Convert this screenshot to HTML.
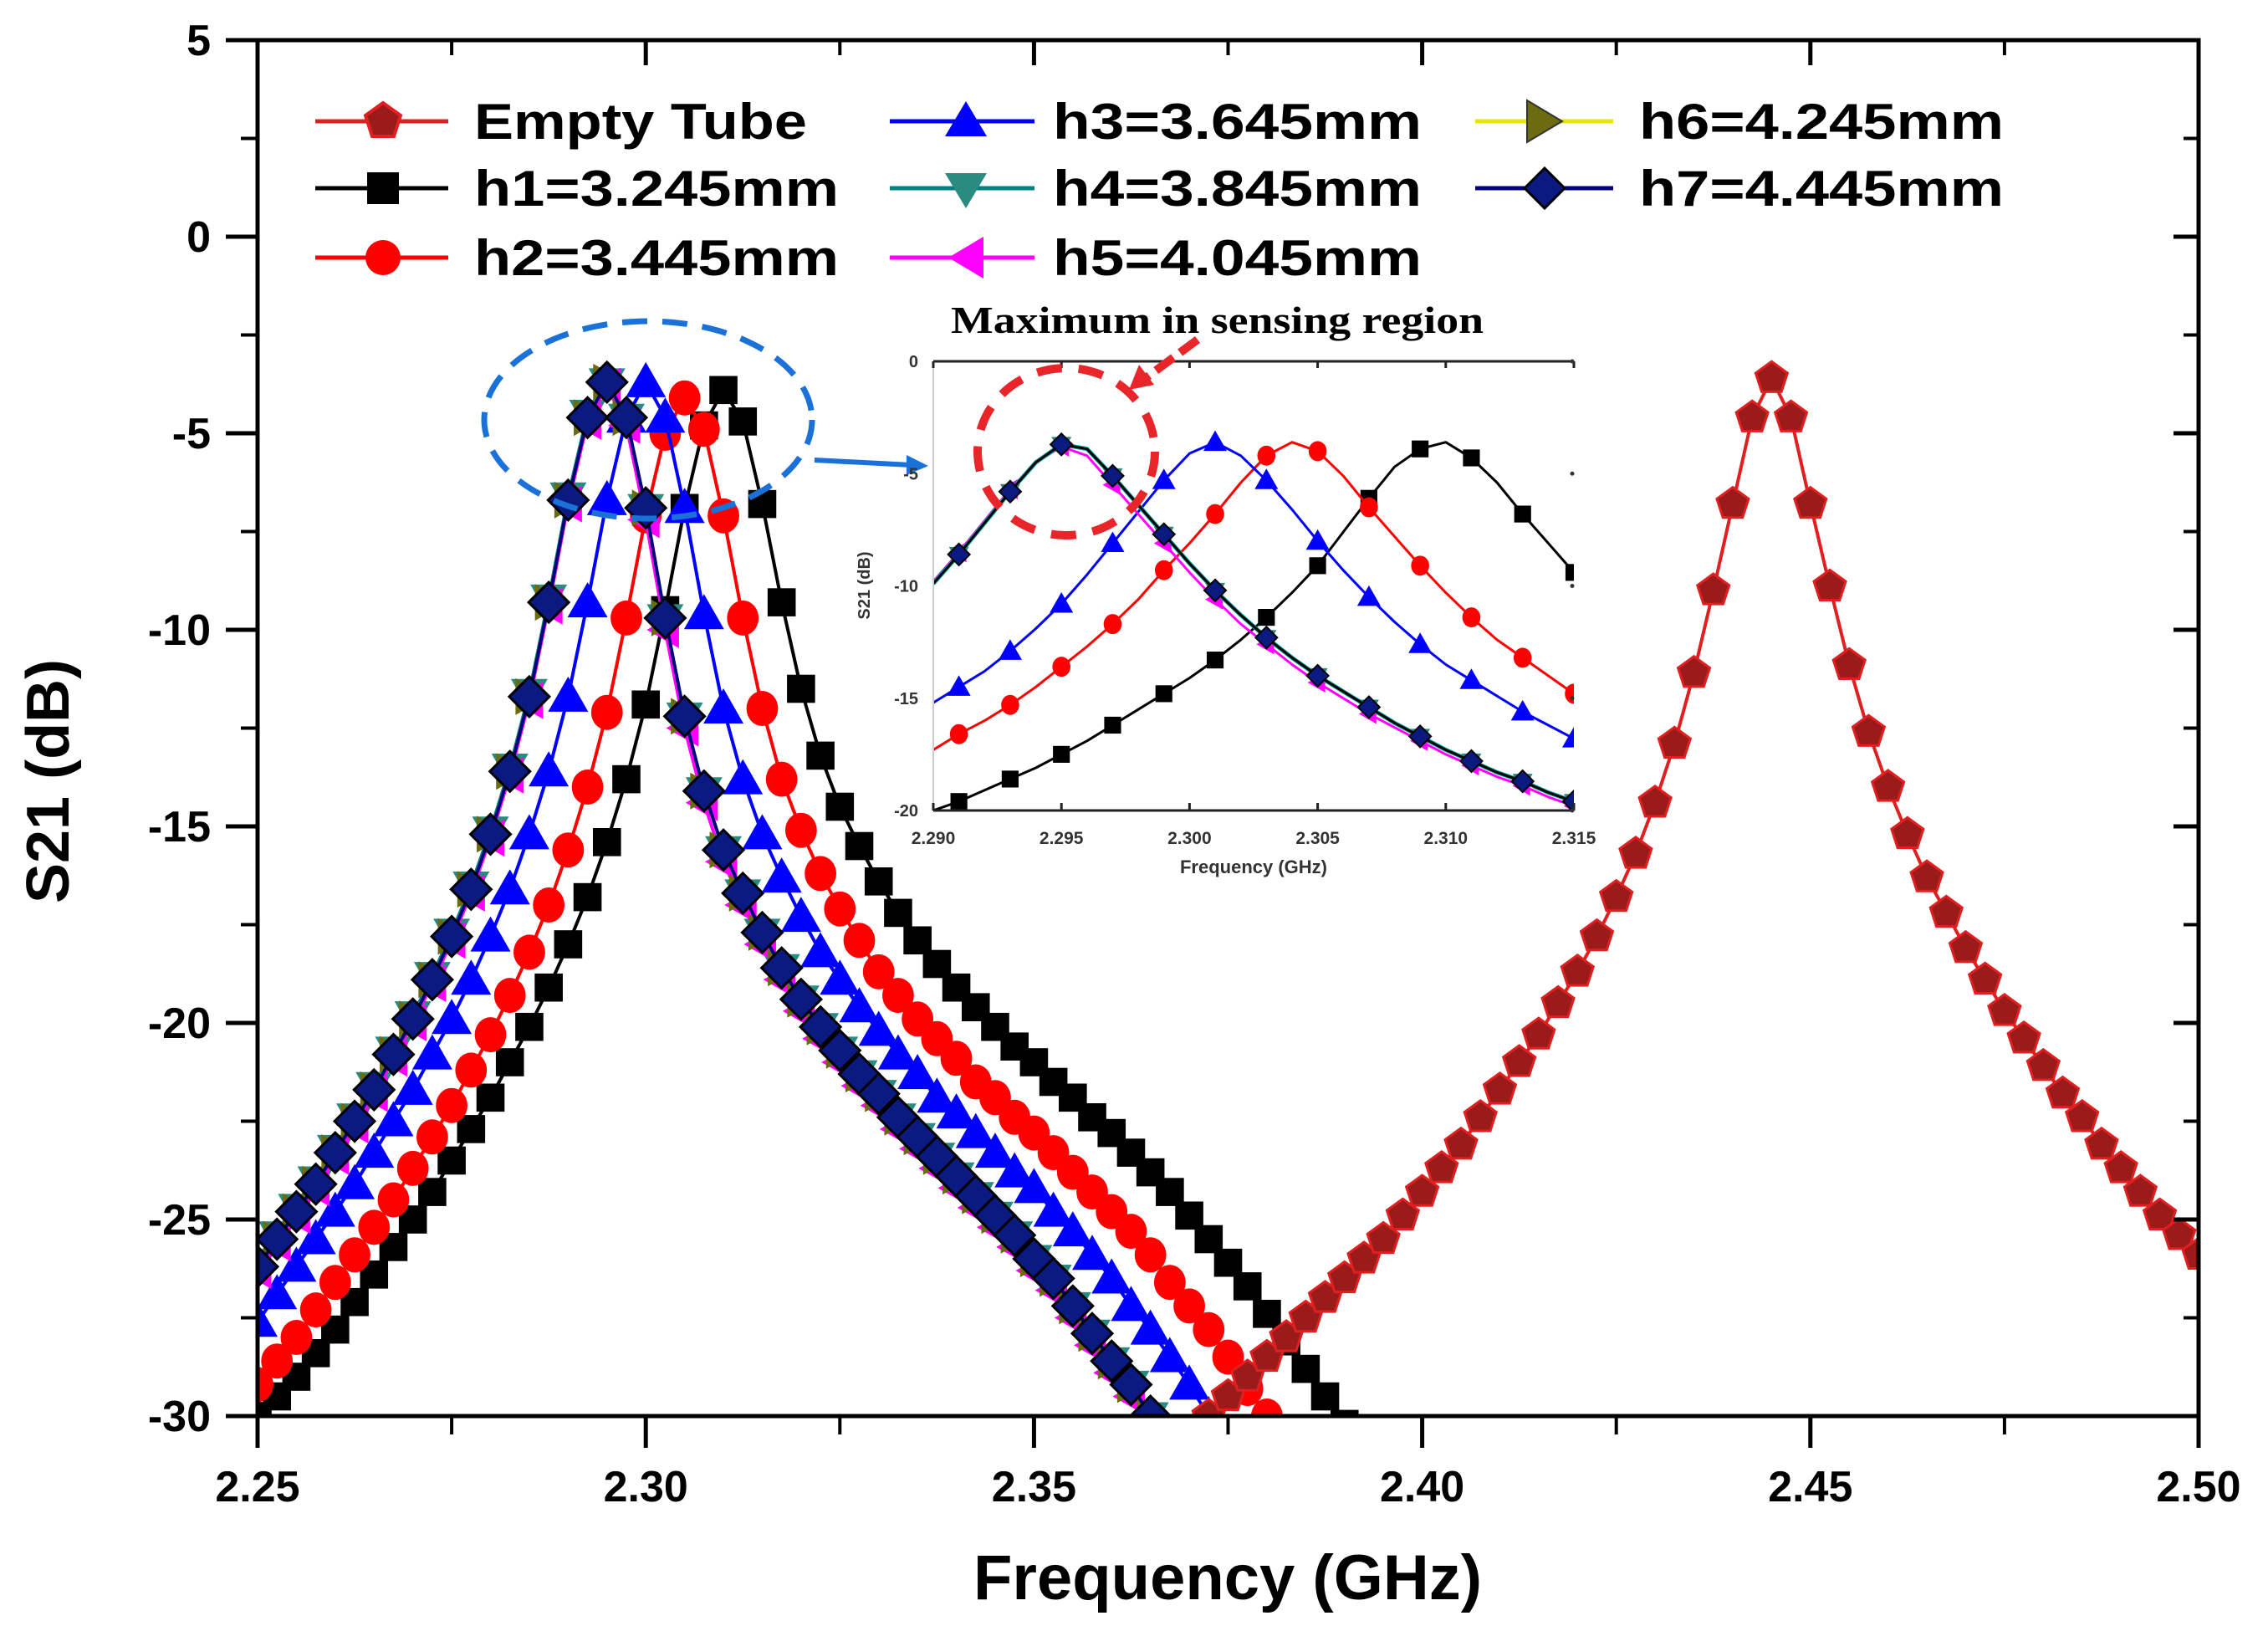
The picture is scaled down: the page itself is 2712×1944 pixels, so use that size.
<!DOCTYPE html>
<html><head><meta charset="utf-8"><style>
html,body{margin:0;padding:0;background:#fff;width:2712px;height:1944px;overflow:hidden;}
svg{display:block;font-family:"Liberation Sans",Arial,sans-serif;}
</style></head><body>
<svg id="chart" width="2712" height="1944" viewBox="0 0 2712 1944" xmlns="http://www.w3.org/2000/svg">
<defs>
<clipPath id="mainClip"><rect x="308" y="48" width="2321" height="1645"/></clipPath>
<clipPath id="insetClip"><rect x="1116" y="432" width="766" height="537"/></clipPath>
</defs>
<rect x="0" y="0" width="2712" height="1944" fill="#fff"/>
<g id="mainSeries" clip-path="url(#mainClip)"></g>
<g id="mainAxes"></g>
<text x="1468" y="1912" font-size="76" font-weight="bold" text-anchor="middle">Frequency (GHz)</text>
<text x="0" y="0" font-size="72" font-weight="bold" text-anchor="middle" transform="translate(82,934) rotate(-90)">S21 (dB)</text>

<g font-size="60" font-weight="bold">
 <g>
  <line x1="377" y1="145" x2="536" y2="145" stroke="#e02020" stroke-width="5"/>
  <polygon points="458,123 479,138 471,163 445,163 437,138" fill="#9b1b1b" stroke="#e02020" stroke-width="4"/>
  <text x="567" y="166" textLength="398" lengthAdjust="spacingAndGlyphs">Empty Tube</text>
 </g>
 <g>
  <line x1="377" y1="225" x2="536" y2="225" stroke="#000" stroke-width="5"/>
  <rect x="439" y="206" width="38" height="38" fill="#000"/>
  <text x="567" y="246" textLength="436" lengthAdjust="spacingAndGlyphs">h1=3.245mm</text>
 </g>
 <g>
  <line x1="377" y1="308" x2="536" y2="308" stroke="#ff0000" stroke-width="5"/>
  <circle cx="458" cy="308" r="21" fill="#ff0000"/>
  <text x="567" y="329" textLength="436" lengthAdjust="spacingAndGlyphs">h2=3.445mm</text>
 </g>
 <g>
  <line x1="1064" y1="145" x2="1237" y2="145" stroke="#0000ff" stroke-width="5"/>
  <polygon points="1155,121 1180,163 1130,163" fill="#0000ff"/>
  <text x="1259" y="166" textLength="441" lengthAdjust="spacingAndGlyphs">h3=3.645mm</text>
 </g>
 <g>
  <line x1="1064" y1="225" x2="1237" y2="225" stroke="#008080" stroke-width="5"/>
  <polygon points="1130,207 1180,207 1155,249" fill="#2a8c80"/>
  <text x="1259" y="246" textLength="441" lengthAdjust="spacingAndGlyphs">h4=3.845mm</text>
 </g>
 <g>
  <line x1="1064" y1="308" x2="1237" y2="308" stroke="#ff00ff" stroke-width="5"/>
  <polygon points="1134,308 1176,283 1176,333" fill="#ff00ff"/>
  <text x="1259" y="329" textLength="441" lengthAdjust="spacingAndGlyphs">h5=4.045mm</text>
 </g>
 <g>
  <line x1="1764" y1="145" x2="1929" y2="145" stroke="#e6e600" stroke-width="5"/>
  <polygon points="1826,120 1868,145 1826,170" fill="#6b6b10" stroke="#333" stroke-width="2"/>
  <text x="1960" y="166" textLength="436" lengthAdjust="spacingAndGlyphs">h6=4.245mm</text>
 </g>
 <g>
  <line x1="1764" y1="225" x2="1929" y2="225" stroke="#000080" stroke-width="5"/>
  <polygon points="1847,201 1871,225 1847,249 1823,225" fill="#0a1a80" stroke="#000" stroke-width="3"/>
  <text x="1960" y="246" textLength="436" lengthAdjust="spacingAndGlyphs">h7=4.445mm</text>
 </g>
</g>

<ellipse cx="775" cy="502" rx="196" ry="118" fill="none" stroke="#1a72d9" stroke-width="7" stroke-dasharray="30 18"/>
<g>
 <line x1="974" y1="550" x2="1090" y2="556" stroke="#1a72d9" stroke-width="6"/>
 <polygon points="1110,557 1084,544 1084,568" fill="#1a72d9"/>
</g>

<g id="inset">
 <rect x="1116" y="432" width="766" height="537" fill="#fff"/>
 <g id="insetSeries" clip-path="url(#insetClip)"></g>
 <g id="insetAxes"></g>
 <text x="1499" y="1044" font-size="22" font-weight="bold" text-anchor="middle" fill="#333">Frequency (GHz)</text>
 <text x="0" y="0" font-size="20" font-weight="bold" text-anchor="middle" fill="#333" transform="translate(1040,700) rotate(-90)">S21 (dB)</text>
</g>
<text x="1137" y="398" font-family="Liberation Serif, serif" font-size="46" font-weight="bold" textLength="637" lengthAdjust="spacingAndGlyphs">Maximum in sensing region</text>
<ellipse cx="1275" cy="540" rx="106" ry="100" fill="none" stroke="#e8262a" stroke-width="10" stroke-dasharray="30 20"/>
<g>
 <line x1="1432" y1="406" x2="1370" y2="452" stroke="#e8262a" stroke-width="10" stroke-dasharray="26 10"/>
 <polygon points="1350,466 1362,436 1380,460" fill="#e8262a"/>
</g>

<script>
// ---------- main chart data ----------
const hFreqs = Array.from({length:57}, (_, i) => +(2.25 + 0.0025 * i).toFixed(4));
const emptyFreqs = Array.from({length:53}, (_, i) => +(2.37 + 0.0025 * i).toFixed(4));
const emptyValues = [-30.5,-30.0,-29.5,-29.0,-28.5,-28.0,-27.5,-27.0,-26.5,-26.0,-25.5,-24.9,-24.3,-23.7,-23.1,-22.4,-21.7,-21.0,-20.3,-19.5,-18.7,-17.8,-16.8,-15.7,-14.4,-12.9,-11.1,-9.0,-6.8,-4.6,-3.6,
 -4.6,-6.8,-8.9,-10.9,-12.6,-14.0,-15.2,-16.3,-17.2,-18.1,-18.9,-19.7,-20.4,-21.1,-21.8,-22.4,-23.1,-23.7,-24.3,-24.9,-25.4,-25.9];
const h1Values = [-30.0,-29.5,-29.0,-28.4,-27.8,-27.1,-26.4,-25.7,-25.0,-24.3,-23.5,-22.7,-21.9,-21.0,-20.1,-19.1,-18.0,-16.8,-15.4,-13.8,-11.9,-9.5,-6.9,-4.8,-3.9,
 -4.7,-6.8,-9.3,-11.5,-13.2,-14.5,-15.5,-16.4,-17.2,-17.9,-18.5,-19.1,-19.6,-20.1,-20.6,-21.0,-21.5,-21.9,-22.4,-22.8,-23.3,-23.8,-24.3,-24.9,-25.5,-26.1,-26.7,-27.4,-28.1,-28.8,-29.5,-30.2];
const h2Values = [-29.2,-28.6,-28.0,-27.3,-26.6,-25.9,-25.2,-24.5,-23.7,-22.9,-22.1,-21.2,-20.3,-19.3,-18.2,-17.0,-15.6,-14.0,-12.1,-9.7,-7.1,-5.0,-4.1,
 -4.9,-7.1,-9.7,-12.0,-13.8,-15.1,-16.2,-17.1,-17.9,-18.7,-19.3,-19.9,-20.4,-20.9,-21.5,-21.9,-22.4,-22.8,-23.3,-23.8,-24.3,-24.8,-25.3,-25.9,-26.6,-27.2,-27.8,-28.5,-29.3,-30.0,-30.7,-31.5,-32.2,-32.9];
const h3Values = [-27.6,-26.9,-26.2,-25.5,-24.8,-24.1,-23.3,-22.5,-21.7,-20.8,-19.9,-18.9,-17.8,-16.6,-15.2,-13.6,-11.7,-9.3,-6.7,-4.6,-3.7,
 -4.6,-6.9,-9.6,-12.0,-13.8,-15.2,-16.3,-17.3,-18.2,-18.9,-19.6,-20.2,-20.8,-21.3,-21.9,-22.3,-22.8,-23.3,-23.8,-24.2,-24.8,-25.3,-25.9,-26.5,-27.2,-27.8,-28.5,-29.2,-30.0,-30.8,-31.5,-32.3,-33.0,-33.8,-34.6,-35.3];
const h4Values = [-26.1,-25.4,-24.7,-24.0,-23.2,-22.4,-21.6,-20.7,-19.8,-18.8,-17.7,-16.5,-15.1,-13.5,-11.6,-9.2,-6.6,-4.5,-3.7,
 -4.6,-6.9,-9.7,-12.2,-14.1,-15.6,-16.7,-17.7,-18.6,-19.4,-20.1,-20.7,-21.3,-21.8,-22.4,-22.9,-23.4,-23.9,-24.4,-24.9,-25.4,-26.0,-26.5,-27.2,-27.9,-28.6,-29.2,-30.0,-30.8,-31.6,-32.4,-33.2,-33.9,-34.7,-35.5,-36.3,-37.1,-37.9];
const h5Values = [-26.3,-25.6,-24.9,-24.2,-23.4,-22.6,-21.8,-20.9,-20.0,-19.0,-17.9,-16.7,-15.3,-13.7,-11.8,-9.4,-6.8,-4.7,-3.8,
 -4.8,-7.2,-10.0,-12.5,-14.4,-15.9,-17.0,-18.0,-18.9,-19.7,-20.4,-21.0,-21.6,-22.1,-22.7,-23.2,-23.7,-24.2,-24.7,-25.2,-25.7,-26.3,-26.8,-27.5,-28.2,-28.9,-29.5,-30.3,-31.1,-31.9,-32.7,-33.5,-34.2,-35.0,-35.8,-36.6,-37.4,-38.2];
const h6Values = [-26.2,-25.5,-24.8,-24.1,-23.3,-22.5,-21.7,-20.8,-19.9,-18.9,-17.8,-16.6,-15.2,-13.6,-11.7,-9.3,-6.7,-4.6,-3.7,
 -4.6,-6.9,-9.7,-12.2,-14.1,-15.6,-16.7,-17.7,-18.6,-19.4,-20.1,-20.7,-21.3,-21.8,-22.4,-22.9,-23.4,-23.9,-24.4,-24.9,-25.4,-26.0,-26.5,-27.2,-27.9,-28.6,-29.2,-30.0,-30.8,-31.6,-32.4,-33.2,-33.9,-34.7,-35.5,-36.3,-37.1,-37.9];
const h7Values = [-26.2,-25.5,-24.8,-24.1,-23.3,-22.5,-21.7,-20.8,-19.9,-18.9,-17.8,-16.6,-15.2,-13.6,-11.7,-9.3,-6.7,-4.6,-3.7,
 -4.6,-6.9,-9.7,-12.2,-14.1,-15.6,-16.7,-17.7,-18.6,-19.4,-20.1,-20.7,-21.3,-21.8,-22.4,-22.9,-23.4,-23.9,-24.4,-24.9,-25.4,-26.0,-26.5,-27.2,-27.9,-28.6,-29.2,-30.0,-30.8,-31.6,-32.4,-33.2,-33.9,-34.7,-35.5,-36.3,-37.1,-37.9];
const xTickLabels = ["2.25","2.30","2.35","2.40","2.45","2.50"];
const yTickLabels = ["5","0","-5","-10","-15","-20","-25","-30"];

// ---------- inset data ----------
const insetFreqs = Array.from({length:26}, (_, i) => +(2.29 + 0.001 * i).toFixed(3));
const insetH1 = [-20.0,-19.6,-19.1,-18.6,-18.1,-17.5,-16.9,-16.2,-15.5,-14.8,-14.1,-13.3,-12.4,-11.4,-10.3,-9.1,-7.6,-6.1,-4.7,-3.9,-3.6,-4.3,-5.4,-6.8,-8.1,-9.4];
const insetH2 = [-17.3,-16.6,-16.0,-15.3,-14.5,-13.6,-12.7,-11.7,-10.6,-9.3,-8.1,-6.8,-5.4,-4.2,-3.6,-4.0,-5.1,-6.5,-7.8,-9.1,-10.3,-11.4,-12.4,-13.2,-14.0,-14.8];
const insetH3 = [-15.2,-14.5,-13.8,-12.9,-11.9,-10.8,-9.5,-8.1,-6.7,-5.3,-4.1,-3.6,-4.2,-5.3,-6.6,-8.0,-9.3,-10.5,-11.6,-12.6,-13.5,-14.2,-14.9,-15.6,-16.2,-16.8];
const insetH4 = [-9.9,-8.6,-7.2,-5.8,-4.5,-3.7,-3.9,-5.1,-6.4,-7.7,-9.0,-10.2,-11.3,-12.3,-13.2,-14.0,-14.7,-15.4,-16.1,-16.7,-17.3,-17.8,-18.3,-18.7,-19.2,-19.6];
const insetH5 = [-9.8,-8.5,-7.1,-5.7,-4.5,-3.8,-4.2,-5.5,-6.8,-8.1,-9.4,-10.6,-11.7,-12.6,-13.5,-14.3,-15.0,-15.7,-16.3,-16.9,-17.5,-18.0,-18.5,-18.9,-19.4,-19.8];
const insetH7 = [-9.9,-8.6,-7.2,-5.8,-4.5,-3.7,-3.9,-5.1,-6.4,-7.7,-9.0,-10.2,-11.3,-12.3,-13.2,-14.0,-14.7,-15.4,-16.1,-16.7,-17.3,-17.8,-18.3,-18.7,-19.2,-19.6];
const insetXTickLabels = ["2.290","2.295","2.300","2.305","2.310","2.315"];
const insetYTickLabels = ["0","-5","-10","-15","-20"];

const NS = "http://www.w3.org/2000/svg";
const xS = f => 308 + (f - 2.25) / 0.25 * 2321;
const yS = v => 48 + (5 - v) / 35 * 1645;
const ixS = f => 1116 + (f - 2.29) / 0.025 * 766;
const iyS = v => 432 + (-v) / 20 * 537;

function el(tag, parent, attrs) {
  const e = document.createElementNS(NS, tag);
  for (const k in attrs) e.setAttribute(k, attrs[k]);
  parent.appendChild(e);
  return e;
}
function markerPoints(type, x, y, s) {
  const h = s / 2;
  if (type === "up") return `${x},${y-h} ${x+h},${y+h*0.75} ${x-h},${y+h*0.75}`;
  if (type === "down") return `${x-h},${y-h*0.75} ${x+h},${y-h*0.75} ${x},${y+h}`;
  if (type === "left") return `${x-h},${y} ${x+h*0.75},${y-h} ${x+h*0.75},${y+h}`;
  if (type === "right") return `${x-h*0.75},${y-h} ${x+h},${y} ${x-h*0.75},${y+h}`;
  if (type === "diamond") return `${x},${y-h} ${x+h},${y} ${x},${y+h} ${x-h},${y}`;
  if (type === "pent") {
    const p = [];
    for (let i = 0; i < 5; i++) { const a = -Math.PI/2 + i*2*Math.PI/5; p.push(`${x+h*Math.cos(a)},${y+h*Math.sin(a)}`); }
    return p.join(" ");
  }
  return "";
}
function drawMarker(g, type, x, y, s, fill, stroke, sw) {
  let m;
  if (type === "square") m = el("rect", g, {x: x - s*0.42, y: y - s*0.42, width: s*0.84, height: s*0.84, fill: fill});
  else if (type === "circle") m = el("ellipse", g, {cx: x, cy: y, rx: s*0.45, ry: s*0.5, fill: fill});
  else m = el("polygon", g, {points: markerPoints(type, x, y, s), fill: fill});
  if (stroke) { m.setAttribute("stroke", stroke); m.setAttribute("stroke-width", sw); }
  
  
}
function drawSeries(parent, name, freqs, vals, fx, fy, lineColor, lw, type, fill, stroke, sw, size, everyOther, vMin) {
  const g = el("g", parent, {});
  
  
  // keep points within range (plus one neighbour past the bottom edge so lines reach the axis)
  const keep = vals.map((v, i) => v >= vMin || (i > 0 && vals[i-1] >= vMin) || (i < vals.length - 1 && vals[i+1] >= vMin));
  const pts = [];
  freqs.forEach((f, i) => { if (keep[i]) pts.push(`${fx(f).toFixed(1)},${fy(Math.max(vals[i], vMin - 1.5)).toFixed(1)}`); });
  const line = el("polyline", g, {points: pts.join(" "), fill: "none", stroke: lineColor, "stroke-width": lw, "stroke-linejoin": "round"});
  
  
  freqs.forEach((f, i) => {
    if (everyOther && i % 2 === 0) return;
    if (vals[i] < vMin - 1) return;
    drawMarker(g, type, fx(f), fy(vals[i]), size, fill, stroke, sw);
  });
}

const ms = document.getElementById("mainSeries");
drawSeries(ms, "series-h1", hFreqs, h1Values, xS, yS, "#000", 4, "square", "#000", null, 0, 40, false, -30);
drawSeries(ms, "series-h2", hFreqs, h2Values, xS, yS, "#ff0000", 4, "circle", "#ff0000", null, 0, 42, false, -30);
drawSeries(ms, "series-h3", hFreqs, h3Values, xS, yS, "#0000ff", 4, "up", "#0000ff", null, 0, 48, false, -30);
drawSeries(ms, "series-h4", hFreqs, h4Values, xS, yS, "#008080", 4, "down", "#2a8c80", null, 0, 44, false, -30);
drawSeries(ms, "series-h5", hFreqs, h5Values, xS, yS, "#ff00ff", 4, "left", "#ff00ff", null, 0, 44, false, -30);
drawSeries(ms, "series-h6", hFreqs, h6Values, xS, yS, "#e6e600", 4, "right", "#6b6b10", null, 0, 44, false, -30);
drawSeries(ms, "series-h7", hFreqs, h7Values, xS, yS, "#000080", 4, "diamond", "#0a1a80", "#000", 3, 48, false, -30);
drawSeries(ms, "series-empty-tube", emptyFreqs, emptyValues, xS, yS, "#e02020", 4, "pent", "#9b1b1b", "#e02020", 3, 40, false, -30);

const ax = document.getElementById("mainAxes");
el("rect", ax, {x: 308, y: 48, width: 2321, height: 1645, fill: "none", stroke: "#000", "stroke-width": 5});
xTickLabels.forEach((lab, i) => {
  const f = parseFloat(lab); const x = xS(f);
  el("line", ax, {x1: x, y1: 1693, x2: x, y2: 1731, stroke: "#000", "stroke-width": 5});
  el("line", ax, {x1: x, y1: 48, x2: x, y2: 78, stroke: "#000", "stroke-width": 5});
  const t = el("text", ax, {x: x, y: 1795, "font-size": 52, "font-weight": "bold", "text-anchor": "middle"});
  t.textContent = lab;
  
  
  if (i < xTickLabels.length - 1) {
    const xm = xS(f + 0.025);
    el("line", ax, {x1: xm, y1: 1693, x2: xm, y2: 1715, stroke: "#000", "stroke-width": 4});
    el("line", ax, {x1: xm, y1: 48, x2: xm, y2: 66, stroke: "#000", "stroke-width": 4});
  }
});
yTickLabels.forEach((lab, i) => {
  const v = parseFloat(lab); const y = yS(v);
  el("line", ax, {x1: 270, y1: y, x2: 308, y2: y, stroke: "#000", "stroke-width": 5});
  el("line", ax, {x1: 2599, y1: y, x2: 2629, y2: y, stroke: "#000", "stroke-width": 5});
  const t = el("text", ax, {x: 252, y: y + 18, "font-size": 52, "font-weight": "bold", "text-anchor": "end"});
  t.textContent = lab;
  
  
  if (i < yTickLabels.length - 1) {
    const ym = yS(v - 2.5);
    el("line", ax, {x1: 288, y1: ym, x2: 308, y2: ym, stroke: "#000", "stroke-width": 4});
    el("line", ax, {x1: 2611, y1: ym, x2: 2629, y2: ym, stroke: "#000", "stroke-width": 4});
  }
});

const is = document.getElementById("insetSeries");
drawSeries(is, "inset-series-h1", insetFreqs, insetH1, ixS, iyS, "#000", 3, "square", "#000", null, 0, 24, true, -21);
drawSeries(is, "inset-series-h2", insetFreqs, insetH2, ixS, iyS, "#ff0000", 3, "circle", "#ff0000", null, 0, 24, true, -21);
drawSeries(is, "inset-series-h3", insetFreqs, insetH3, ixS, iyS, "#0000ff", 3, "up", "#0000ff", null, 0, 28, true, -21);
drawSeries(is, "inset-series-h5", insetFreqs, insetH5, ixS, iyS, "#ff00ff", 3, "left", "#ff00ff", null, 0, 24, true, -21);
drawSeries(is, "inset-series-h4", insetFreqs, insetH4, ixS, iyS, "#00a0a0", 5, "down", "#2a8c80", null, 0, 24, true, -21);
drawSeries(is, "inset-series-h7", insetFreqs, insetH7, ixS, iyS, "#000", 3, "diamond", "#0a1a80", "#000", 2, 26, true, -21);

const iax = document.getElementById("insetAxes");
el("line", iax, {x1: 1116, y1: 432, x2: 1882, y2: 432, stroke: "#222", "stroke-width": 3});
el("line", iax, {x1: 1116, y1: 969, x2: 1882, y2: 969, stroke: "#222", "stroke-width": 3});
el("line", iax, {x1: 1116, y1: 432, x2: 1116, y2: 969, stroke: "#ccc", "stroke-width": 2});
insetXTickLabels.forEach(lab => {
  const x = ixS(parseFloat(lab));
  el("line", iax, {x1: x, y1: 969, x2: x, y2: 960, stroke: "#222", "stroke-width": 3});
  el("line", iax, {x1: x, y1: 432, x2: x, y2: 440, stroke: "#222", "stroke-width": 3});
  const t = el("text", iax, {x: x, y: 1009, "font-size": 21, "font-weight": "bold", "text-anchor": "middle", fill: "#333"});
  t.textContent = lab;
  
  
});
insetYTickLabels.forEach(lab => {
  const y = iyS(parseFloat(lab));
  el("circle", iax, {cx: 1880, cy: y, r: 2.5, fill: "#333"});
  const t = el("text", iax, {x: 1098, y: y + 7, "font-size": 20, "font-weight": "bold", "text-anchor": "end", fill: "#333"});
  t.textContent = lab;
  
  
});
</script>
</svg>
</body></html>
